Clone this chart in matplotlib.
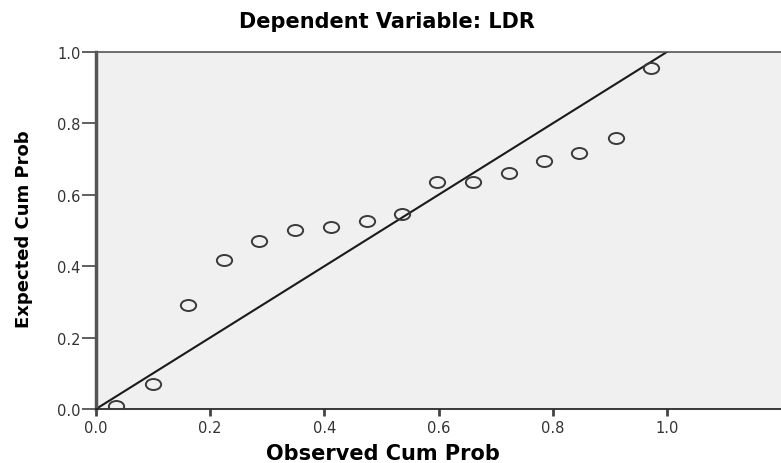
import matplotlib
matplotlib.use("Agg")
import matplotlib.pyplot as plt
from matplotlib.path import Path
import numpy as np

# Normal P-P plot values
observed_cum_prob = [0.035, 0.099, 0.161, 0.224, 0.286, 0.348, 0.411, 0.474,
                     0.536, 0.597, 0.660, 0.723, 0.785, 0.847, 0.911, 0.972]
expected_cum_prob = [0.008, 0.070, 0.291, 0.418, 0.471, 0.501, 0.511, 0.526,
                     0.547, 0.635, 0.635, 0.661, 0.695, 0.716, 0.759, 0.954]
ref_line = [0.0, 1.2]
tick_values = [0.0, 0.2, 0.4, 0.6, 0.8, 1.0]
tick_labels = ["0.0", "0.2", "0.4", "0.6", "0.8", "1.0"]

# The reference is stretched horizontally, so the circles look like ellipses
circle = Path.unit_circle()
ellipse = Path(circle.vertices * np.array([1.0, 0.72]), circle.codes)

fig = plt.figure(figsize=(7.81, 4.64), dpi=100)
ax = fig.add_axes([96 / 781, 1 - 410 / 464, 685 / 781, 357 / 464])
ax.set_facecolor("#f0f0f0")

ax.plot(ref_line, ref_line, color="#1a1a1a", lw=1.5, zorder=2)
ax.plot(observed_cum_prob, expected_cum_prob, linestyle="none",
        marker=ellipse, markersize=11, markerfacecolor="none",
        markeredgecolor="#3a3a3a", markeredgewidth=1.4, zorder=3)

ax.set_xlim(0, 1.2)
ax.set_ylim(0, 1.0)
ax.set_xticks(tick_values)
ax.set_xticklabels(tick_labels)
ax.set_yticks(tick_values)
ax.set_yticklabels(tick_labels)

ax.spines["right"].set_visible(False)
ax.spines["left"].set_color("#555555")
ax.spines["left"].set_linewidth(2.5)
ax.spines["bottom"].set_color("#1a1a1a")
ax.spines["bottom"].set_linewidth(1.2)
ax.spines["top"].set_color("#555555")
ax.spines["top"].set_linewidth(1.2)

ax.tick_params(axis="x", direction="out", length=5, width=2, color="#444444",
               labelsize=10.5, labelcolor="#333333", pad=3)
ax.tick_params(axis="y", direction="out", length=10, width=1.2, color="#444444",
               labelsize=10.5, labelcolor="#333333", pad=1)

fig.text(0.496, 0.952, "Dependent Variable: LDR", ha="center", va="center",
         fontsize=15, fontweight="bold")
fig.text(0.49, 0.021, "Observed Cum Prob", ha="center", va="center",
         fontsize=15, fontweight="bold")
fig.text(0.031, 0.505, "Expected Cum Prob", ha="center", va="center",
         rotation=90, fontsize=13, fontweight="bold")

fig.savefig("out.png", dpi=100)
